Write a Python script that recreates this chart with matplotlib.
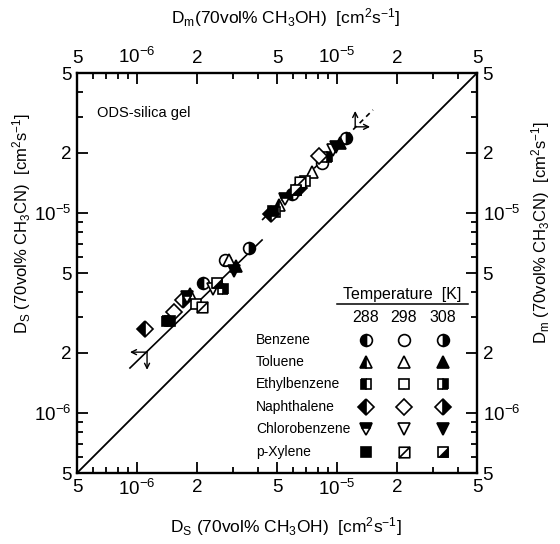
import matplotlib
matplotlib.use("Agg")
import matplotlib.pyplot as plt
from matplotlib.path import Path
from matplotlib.ticker import FixedLocator, FixedFormatter, NullFormatter

plt.rcParams['font.family'] = ['Liberation Sans', 'DejaVu Sans']
plt.rcParams['mathtext.default'] = 'regular'

# diffusivities in units of 1e-6 cm2/s, order: 288, 298, 308 K
species = ["Benzene", "Toluene", "Ethylbenzene", "Naphthalene", "Chlorobenzene", "p-Xylene"]
temps = ["288", "298", "308"]

# Ds (CH3OH) vs Ds (CH3CN)  -> bottom / left axes
ds_meoh = {
    "Benzene":       [2.13, 2.75, 3.62],
    "Toluene":       [1.84, 2.88, 3.12],
    "Ethylbenzene":  [1.41, 1.97, 2.69],
    "Naphthalene":   [1.09, 1.53, 1.69],
    "Chlorobenzene": [1.77, 2.39, 3.05],
    "p-Xylene":      [1.46, 2.11, 2.51],
}
ds_mecn = {
    "Benzene":       [4.46, 5.81, 6.67],
    "Toluene":       [3.93, 5.81, 5.42],
    "Ethylbenzene":  [2.88, 3.50, 4.16],
    "Naphthalene":   [2.62, 3.19, 3.66],
    "Chlorobenzene": [3.79, 4.16, 5.12],
    "p-Xylene":      [2.88, 3.38, 4.46],
}
# Dm (CH3OH) vs Dm (CH3CN)  -> top / right axes
dm_meoh = {
    "Benzene":       [5.94, 8.39, 11.1],
    "Toluene":       [5.12, 7.48, 10.3],
    "Ethylbenzene":  [4.89, 6.90, 8.89],
    "Naphthalene":   [4.67, 8.11, 6.44],
    "Chlorobenzene": [5.48, 9.53, 9.86],
    "p-Xylene":      [4.77, 6.52, 6.22],
}
dm_mecn = {
    "Benzene":       [12.4, 17.7, 23.7],
    "Toluene":       [10.9, 16.0, 22.3],
    "Ethylbenzene":  [10.1, 14.4, 19.0],
    "Naphthalene":   [9.86, 19.2, 13.3],
    "Chlorobenzene": [11.7, 20.6, 21.3],
    "p-Xylene":      [10.2, 14.3, 13.0],
}

# correlation lines (1e-6 cm2/s)
ds_line_x = [0.92, 4.21]
ds_line_y = [1.675, 7.31]
dm_line_x = [4.21, 15.1]
dm_line_y = [9.2, 32.7]
ds_arrow = (1.12, 2.01, 0.92, 1.64)     # centre x, centre y, arrow-left x, arrow-down y
dm_arrow = (12.3, 26.9, 14.6, 32.3)     # centre x, centre y, arrow-right x, arrow-up y

lo, hi = 0.5, 50.0

sq_diag = Path([(-1, -1), (1, -1), (1, 1), (-1, 1), (-1, -1), (-1, -1), (1, 1)],
               [Path.MOVETO, Path.LINETO, Path.LINETO, Path.LINETO, Path.CLOSEPOLY,
                Path.MOVETO, Path.LINETO])
half_tri = Path([(-1, -1), (1, -1), (1, 1), (-1, -1)],
                [Path.MOVETO, Path.LINETO, Path.LINETO, Path.CLOSEPOLY])

styles = {
    "Benzene":       ('o', ['left', 'none', 'right']),
    "Toluene":       ('^', ['left', 'none', 'full']),
    "Ethylbenzene":  ('s', ['left', 'none', 'right']),
    "Naphthalene":   ('D', ['left', 'none', 'right']),
    "Chlorobenzene": ('v', ['top', 'none', 'full']),
    "p-Xylene":      ('s', ['full', 'diag', 'halfdiag']),
}
msize = {'o': 8.5, '^': 8.5, 's': 7.6, 'D': 8.0, 'v': 8.5}


def draw(ax, x, y, name, k, **kw):
    m, fills = styles[name]
    f = fills[k]
    ms = msize[m]
    if f == 'diag':
        ax.plot(x, y, marker=sq_diag, ms=ms, mfc='white', mec='black', mew=1.2,
                ls='none', **kw)
    elif f == 'halfdiag':
        ax.plot(x, y, marker='s', ms=ms, mfc='white', mec='black', mew=1.2, ls='none', **kw)
        ax.plot(x, y, marker=half_tri, ms=ms, mfc='black', mec='black', mew=0.5,
                ls='none', **kw)
    elif f == 'none':
        ax.plot(x, y, marker=m, ms=ms, mfc='white', mec='black', mew=1.2, ls='none', **kw)
    else:
        ax.plot(x, y, marker=m, ms=ms, fillstyle=f, mfc='black', mfcalt='white',
                mec='black', mew=1.2, ls='none', **kw)


fig = plt.figure(figsize=(5.6, 5.44), dpi=100)
ax = fig.add_axes([77 / 560, 71 / 544, 400 / 560, 400 / 544])
ax.set_xscale('log')
ax.set_yscale('log')
ax.set_xlim(lo, hi)
ax.set_ylim(lo, hi)

major = [0.5, 1, 2, 5, 10, 20, 50]
major_lab = ['5', '$10^{-6}$', '2', '5', '$10^{-5}$', '2', '5']
minor = [0.6, 0.7, 0.8, 0.9, 3, 4, 6, 7, 8, 9, 30, 40]
for axis in (ax.xaxis, ax.yaxis):
    axis.set_major_locator(FixedLocator(major))
    axis.set_major_formatter(FixedFormatter(major_lab))
    axis.set_minor_locator(FixedLocator(minor))
    axis.set_minor_formatter(NullFormatter())
ax.tick_params(which='both', direction='in', top=True, right=True,
               labeltop=True, labelright=True, labelsize=13.5, width=1.3)
ax.tick_params(which='major', length=8, pad=4)
ax.tick_params(which='minor', length=4.5)
for s in ax.spines.values():
    s.set_linewidth(1.7)

# y = x line
ax.plot([lo, hi], [lo, hi], color='black', lw=1.3)
ax.plot(ds_line_x, ds_line_y, color='black', lw=1.2)
ax.plot(dm_line_x, dm_line_y, color='black', lw=1.2, ls=(0, (3, 2.5)))

ap = dict(arrowstyle='->', color='black', lw=1.0, shrinkA=0, shrinkB=0, mutation_scale=9)
cx, cy, ax_l, ay_d = ds_arrow
ax.annotate('', xy=(ax_l, cy), xytext=(cx, cy), arrowprops=ap)
ax.annotate('', xy=(cx, ay_d), xytext=(cx, cy), arrowprops=ap)
cx, cy, ax_r, ay_u = dm_arrow
ax.annotate('', xy=(ax_r, cy), xytext=(cx, cy), arrowprops=ap)
ax.annotate('', xy=(cx, ay_u), xytext=(cx, cy), arrowprops=ap)

for name in species:
    for k in range(3):
        draw(ax, ds_meoh[name][k], ds_mecn[name][k], name, k)
        draw(ax, dm_meoh[name][k], dm_mecn[name][k], name, k)

ax.text(0.05, 0.9, 'ODS-silica gel', transform=ax.transAxes, fontsize=10.5, va='center')

# legend table
col_x = [0.7225, 0.8175, 0.915]
row_y = [0.3325, 0.2775, 0.2225, 0.165, 0.11, 0.0525]
ax.text(0.8125, 0.447, 'Temperature  [K]', transform=ax.transAxes, fontsize=11.5,
        ha='center', va='center')
ax.plot([0.65, 0.9775], [0.4225, 0.4225], transform=ax.transAxes, color='black', lw=1.1)
for t, xx in zip(temps, col_x):
    ax.text(xx, 0.3875, t, transform=ax.transAxes, fontsize=11.5, ha='center', va='center')
for name, yy in zip(species, row_y):
    ax.text(0.4475, yy, name, transform=ax.transAxes, fontsize=10, va='center')
    for k, xx in enumerate(col_x):
        draw(ax, xx, yy, name, k, transform=ax.transAxes)

unit = r'[cm$^{2}$s$^{-1}$]'
fig.text(286 / 560, 1 - 18 / 544, r'D$_{m}$(70vol% CH$_{3}$OH)  ' + unit,
         ha='center', va='center', fontsize=12.5)
fig.text(286 / 560, 1 - 527 / 544, r'D$_{S}$ (70vol% CH$_{3}$OH)  ' + unit,
         ha='center', va='center', fontsize=12.5)
fig.text(22 / 560, 1 - 224 / 544, r'D$_{S}$ (70vol% CH$_{3}$CN)  ' + unit,
         ha='center', va='center', rotation=90, fontsize=12)
fig.text(541 / 560, 1 - 233 / 544, r'D$_{m}$ (70vol% CH$_{3}$CN)  ' + unit,
         ha='center', va='center', rotation=90, fontsize=12)

plt.savefig('out.png', dpi=100)
